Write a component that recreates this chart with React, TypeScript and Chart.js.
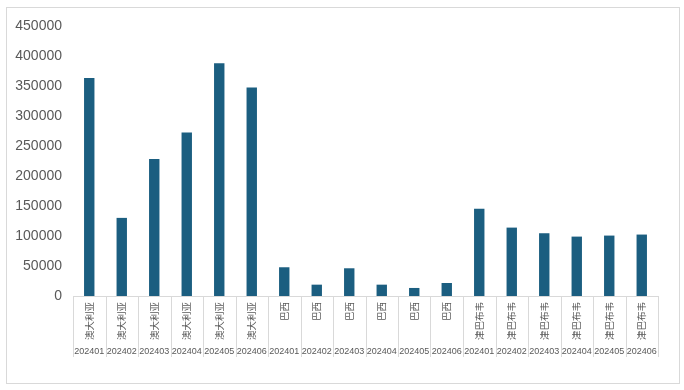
import React, { useEffect, useRef } from 'react';
import { Chart, registerables } from 'chart.js';

Chart.register(...registerables);

const countries = [
  '澳大利亚', '澳大利亚', '澳大利亚', '澳大利亚', '澳大利亚', '澳大利亚',
  '巴西', '巴西', '巴西', '巴西', '巴西', '巴西',
  '津巴布韦', '津巴布韦', '津巴布韦', '津巴布韦', '津巴布韦', '津巴布韦',
];
const months = [
  '202401', '202402', '202403', '202404', '202405', '202406',
  '202401', '202402', '202403', '202404', '202405', '202406',
  '202401', '202402', '202403', '202404', '202405', '202406',
];
const values = [
  363500, 130200, 228300, 272700, 387900, 347300,
  47900, 18900, 46200, 18900, 13400, 21700,
  145300, 114000, 104600, 99000, 100700, 102400,
];
const yMin = 0;
const yMax = 450000;
const yStep = 50000;

const BAR_COLOR = '#1b5e80';
const GRID_COLOR = '#d9d9d9';
const TEXT_COLOR = '#595959';

const multiLevelPlugin = {
  id: 'multiLevel',
  beforeDraw(chart: any) {
    const { ctx, width, height } = chart;
    ctx.save();
    ctx.fillStyle = '#ffffff';
    ctx.fillRect(0, 0, width, height);
    ctx.strokeStyle = GRID_COLOR;
    ctx.lineWidth = 1;
    ctx.strokeRect(6.5, 7.5, 673, 376);
    ctx.restore();
  },
  afterDraw(chart: any) {
    const { ctx } = chart;
    const xs = chart.scales.x;
    const bottom = chart.chartArea.bottom;
    const n = countries.length;
    const w = xs.getPixelForValue(1) - xs.getPixelForValue(0);
    ctx.save();
    ctx.strokeStyle = GRID_COLOR;
    ctx.lineWidth = 1;
    for (let i = 0; i <= n; i++) {
      const px = Math.round(xs.getPixelForValue(Math.min(i, n - 1)) + (i === n ? w / 2 : -w / 2)) + 0.5;
      ctx.beginPath();
      ctx.moveTo(px, bottom);
      ctx.lineTo(px, bottom + 61);
      ctx.stroke();
    }
    ctx.fillStyle = TEXT_COLOR;
    ctx.font = '9.5px "Noto Sans CJK SC"';
    for (let i = 0; i < n; i++) {
      const cx = xs.getPixelForValue(i);
      ctx.save();
      ctx.translate(cx, bottom + 6);
      ctx.rotate(-Math.PI / 2);
      ctx.textAlign = 'right';
      ctx.textBaseline = 'middle';
      ctx.fillText(countries[i], 0, 0);
      ctx.restore();
    }
    ctx.font = '9px "Liberation Sans", Arial, sans-serif';
    ctx.textAlign = 'center';
    ctx.textBaseline = 'middle';
    for (let i = 0; i < n; i++) {
      ctx.fillText(months[i], xs.getPixelForValue(i), bottom + 56);
    }
    ctx.restore();
  },
};

export default function App() {
  const ref = useRef<HTMLCanvasElement>(null);
  useEffect(() => {
    if (!ref.current) return;
    const chart = new Chart(ref.current, {
      type: 'bar',
      data: {
        labels: months.map((m, i) => countries[i] + ' ' + m),
        datasets: [
          {
            data: values,
            backgroundColor: BAR_COLOR,
            borderWidth: 0,
            categoryPercentage: 1,
            barPercentage: 0.32,
          },
        ],
      },
      options: {
        animation: false,
        responsive: false,
        devicePixelRatio: 1,
        layout: { padding: { left: 0, right: 26, top: 26, bottom: 0 } },
        plugins: { legend: { display: false }, tooltip: { enabled: false } },
        scales: {
          x: {
            type: 'category',
            grid: { display: false, drawTicks: false },
            border: { display: true, color: GRID_COLOR, width: 1 },
            ticks: { display: false },
            afterFit(scale: any) {
              scale.height = 94;
            },
          },
          y: {
            min: yMin,
            max: yMax,
            grid: { display: false, drawTicks: false },
            border: { display: false },
            ticks: {
              stepSize: yStep,
              padding: 11,
              color: TEXT_COLOR,
              font: { family: '"Liberation Sans", Arial, sans-serif', size: 14 },
              callback: (v: any) => String(v),
            },
            afterFit(scale: any) {
              scale.width = 73;
            },
          },
        },
      },
      plugins: [multiLevelPlugin],
    });
    return () => chart.destroy();
  }, []);
  return (
    <div style={{ position: 'absolute', left: 0, top: 0, width: 684, height: 390 }}>
      <canvas ref={ref} width={684} height={390} style={{ display: 'block' }} />
    </div>
  );
}
